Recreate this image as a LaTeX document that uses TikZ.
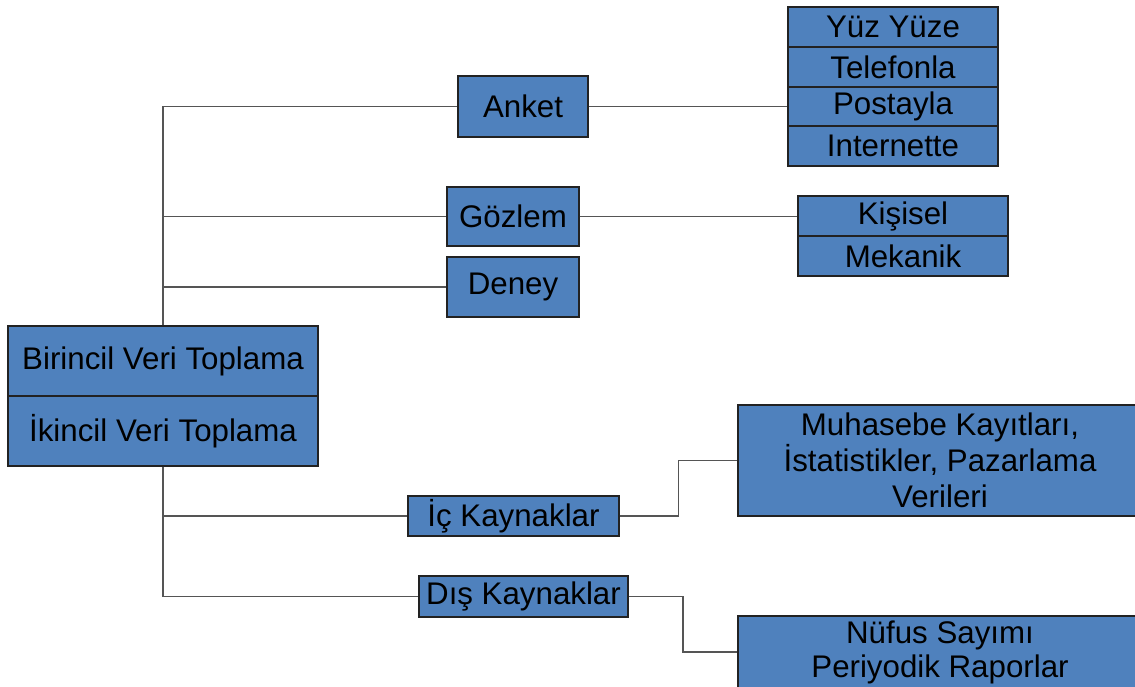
\documentclass[tikz,border=0pt]{standalone}
\usepackage{fontspec}
\setmainfont{Liberation Sans}
\usetikzlibrary{calc}
\definecolor{boxblue}{HTML}{4F81BD}
\definecolor{boxedge}{HTML}{222222}
\definecolor{linegray}{HTML}{555555}
\tikzset{
  box/.style 2 args={draw=boxedge, line width=0.6pt, fill=boxblue, inner sep=0pt,
    minimum width=#1*0.02cm, minimum height=#2*0.02cm, text=black,
    font=\fontsize{17.8}{20}\selectfont, align=center},
  conn/.style={draw=linegray, line width=0.9pt}
}
\begin{document}
\begin{tikzpicture}[x=0.02cm, y=-0.02cm]
\useasboundingbox (0,0) rectangle (1135,686);
\clip (0,0) rectangle (1135,686);
% main
\node[box={310}{70}] (bir) at (163,361) {Birincil Veri Toplama};
\node[box={310}{70}] (ikin) at (163,431) {İkincil Veri Toplama};
% primary methods
\node[box={130}{61}] (anket) at (523,106.5) {Anket};
\node[box={132}{59}] (gozlem) at (513,216.5) {Gözlem};
\node[box={132}{60}] (deney) at (513,287) {Deney};
% anket group
\node[box={210}{40}] (yuz) at (893,27) {Yüz Yüze};
\node[box={210}{40}] (tel) at (893,67) {Telefonla};
\node[box={210}{39}] (posta) at (893,106.5) {Postayla};
\node[box={210}{40}] (inet) at (893,146) {Internette};
% gozlem group
\node[box={210}{40}] (kisi) at (903,216) {Kişisel};
\node[box={210}{40}] (mek) at (903,256) {Mekanik};
% secondary
\node[box={211}{40}] (ic) at (513.5,516) {İç Kaynaklar};
\node[box={209}{41}] (dis) at (523.5,596.5) {Dış Kaynaklar};
\node[box={404}{111}, font=\fontsize{17.8}{20.4}\selectfont] (muh) at (940,460.5) {Muhasebe Kayıtları,\\İstatistikler, Pazarlama\\Verileri};
\node[box={404}{72}, font=\fontsize{17.8}{19.3}\selectfont] (nuf) at (940,652) {Nüfus Sayımı\\Periyodik Raporlar};
% connectors
\draw[conn] (bir.north) -- (bir.north |- anket.west) -- (anket.west);
\draw[conn] (bir.north |- gozlem.west) -- (gozlem.west);
\draw[conn] (bir.north |- deney.west) -- (deney.west);
\draw[conn] (ikin.south) -- (ikin.south |- dis.west) -- (dis.west);
\draw[conn] (ikin.south |- ic.west) -- (ic.west);
\draw[conn] (anket.east) -- (anket.east -| posta.west);
\draw[conn] (gozlem.east) -- (gozlem.east -| kisi.west);
\draw[conn] (ic.east) -| ($(ic.east)!.5!(muh.west)$) |- (muh.west);
\draw[conn] (dis.east) -| ($(dis.east)!.5!(nuf.west)$) |- (nuf.west);
\end{tikzpicture}
\end{document}
